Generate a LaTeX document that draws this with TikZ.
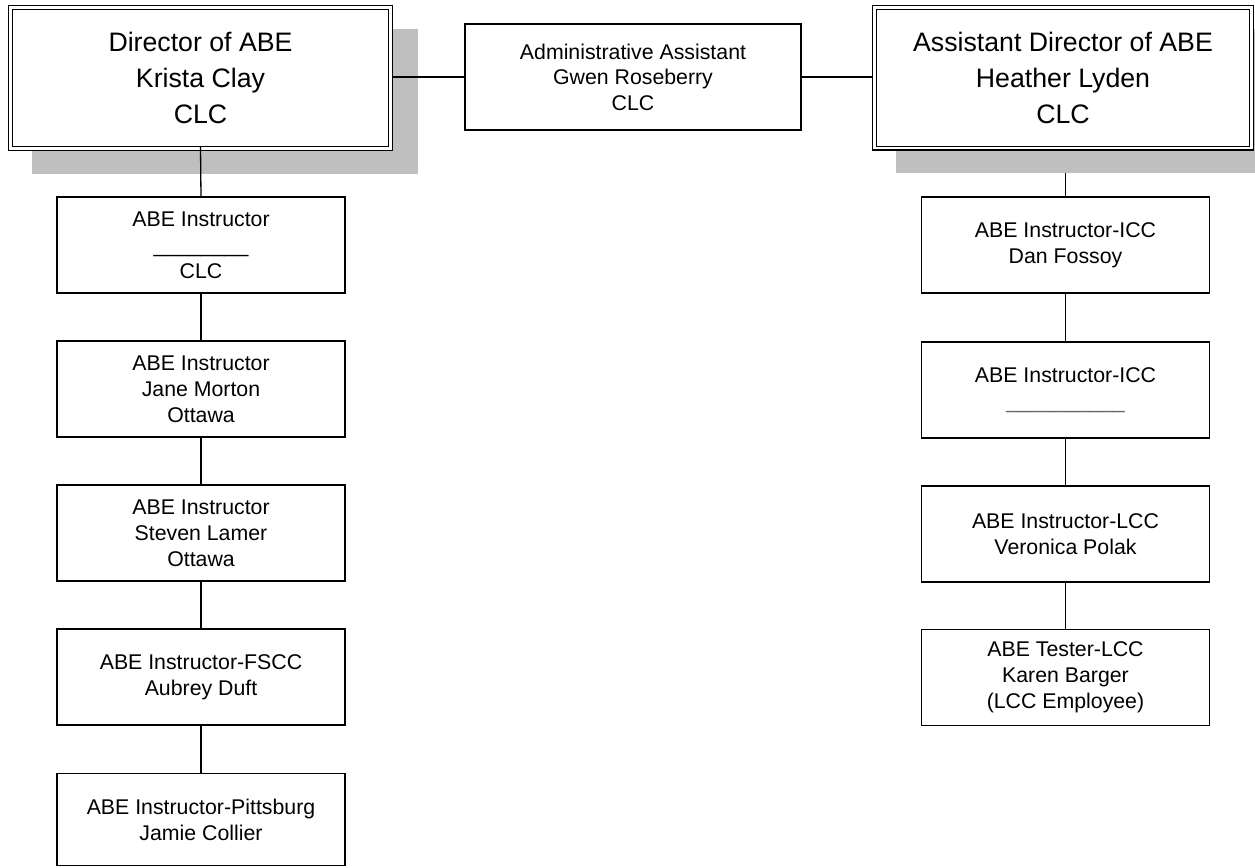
\documentclass[tikz,border=0pt]{standalone}
\usepackage{fontspec}
\setmainfont{Liberation Sans}
\begin{document}
\begin{tikzpicture}[x=1pt,y=-1pt,
  every node/.style={inner sep=0pt,outer sep=0pt},
  smallbox/.style={draw=black,line width=1.3pt,fill=white,rectangle,align=center,
    minimum width=288pt,minimum height=96pt,
    font=\fontsize{21.3}{26}\selectfont},
  bigbox/.style={draw=black,line width=1.2pt,double=white,double distance=2.6pt,fill=white,rectangle,align=center,
    font=\fontsize{26.7}{36}\selectfont},
  shadowbox/.style={fill=black!25,draw=none},
  conn/.style={draw=black,line width=1.3pt}]
\useasboundingbox (0,0) rectangle (1255,867);
\fill[white] (0,0) rectangle (1255,867);
% shadows
\fill[black!25] (32,29) rectangle (418,174);
\fill[black!25] (896,29) rectangle (1255,173);
% top boxes
\node[bigbox,minimum width=380pt,minimum height=141pt] (dir) at (200.5,78) {Director of ABE\\Krista Clay\\CLC};
\node[bigbox,minimum width=377pt,minimum height=140.5pt] (asst) at (1063,77.75) {Assistant Director of ABE\\Heather Lyden\\CLC};
\node[smallbox,minimum width=336pt,minimum height=106pt,font=\fontsize{21.3}{25.5}\selectfont] (admin) at (633,77) {Administrative Assistant\\Gwen Roseberry\\CLC};
% left column
\node[smallbox] (l1) at (201,245) {ABE Instructor\\\_\_\_\_\_\_\_\_\\CLC};
\node[smallbox] (l2) at (201,389) {ABE Instructor\\Jane Morton\\Ottawa};
\node[smallbox] (l3) at (201,533) {ABE Instructor\\Steven Lamer\\Ottawa};
\node[smallbox] (l4) at (201,677) {ABE Instructor-FSCC\\Aubrey Duft};
\node[smallbox,minimum height=92pt] (l5) at (201,819.5) {ABE Instructor-Pittsburg\\Jamie Collier};
% right column
\node[smallbox] (r1) at (1065.5,245) {ABE Instructor-ICC\\Dan Fossoy};
\node[smallbox] (r2) at (1065.5,390) {ABE Instructor-ICC\\\textcolor{black!60}{\_\_\_\_\_\_\_\_\_\_}};
\node[smallbox] (r3) at (1065.5,534) {ABE Instructor-LCC\\Veronica Polak};
\node[smallbox] (r4) at (1065.5,677.5) {ABE Tester-LCC\\Karen Barger\\(LCC Employee)};
% connectors
\coordinate (dirr) at (dir.east |- admin.west);
\coordinate (asstl) at (asst.west |- admin.east);
\draw[conn] (dirr) ++(1.5,0) -- (admin.west);
\draw[conn] (admin.east) -- ([xshift=-1.5pt]asstl);
\draw[conn] ([yshift=2pt]dir.south) -- (l1.north);
\coordinate (rs) at (r1.north |- 0,173);
\draw[conn] (rs) -- (r1.north);
\draw[conn] (l1) -- (l2);
\draw[conn] (l2) -- (l3);
\draw[conn] (l3) -- (l4);
\draw[conn] (l4) -- (l5);
\draw[conn] (r1) -- (r2);
\draw[conn] (r2) -- (r3);
\draw[conn] (r3) -- (r4);
\end{tikzpicture}
\end{document}
